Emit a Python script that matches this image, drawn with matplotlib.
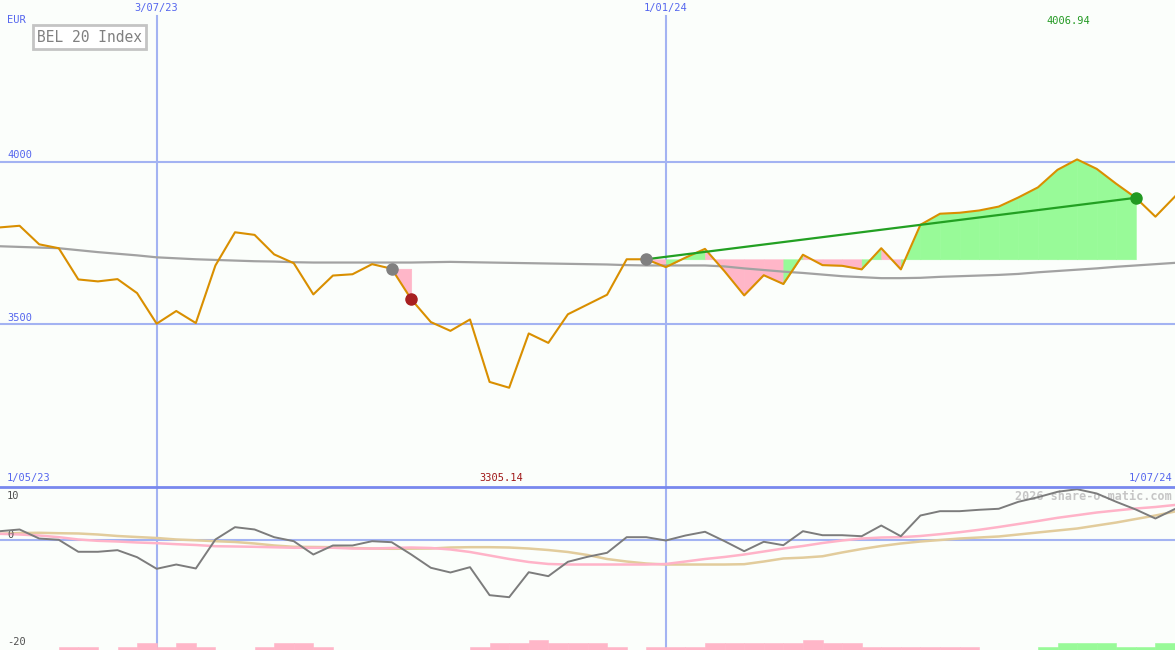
import numpy as np
import pandas as pd
import matplotlib
matplotlib.use('Agg')
import matplotlib.pyplot as plt
import matplotlib.transforms as mtrans
import matplotlib.dates as mdates

# ---------------- data ----------------
dates = pd.date_range('2023-05-08', periods=61, freq='7D')

price = [3798, 3803, 3746, 3734, 3638, 3632, 3639, 3596, 3502, 3541,
         3504, 3681, 3783, 3775, 3715, 3688, 3592, 3650, 3654, 3685,
         3671, 3577, 3507, 3480, 3515, 3323, 3305.14, 3472, 3443, 3531,
         3561, 3591, 3700, 3700, 3676, 3705, 3732, 3663, 3589, 3651,
         3624, 3714, 3682, 3680, 3669, 3734, 3669, 3806, 3840, 3843,
         3850, 3862, 3890, 3921, 3975, 4006.94, 3978, 3932, 3889, 3831,
         3893]

ma = [3740, 3738, 3736, 3734, 3728, 3722, 3717, 3712, 3706, 3703,
      3700, 3698, 3696, 3694, 3693, 3691, 3690, 3690, 3690, 3690,
      3690, 3690, 3691, 3692, 3691, 3690, 3689, 3688, 3687, 3686,
      3685, 3684, 3682, 3681, 3681, 3681, 3681, 3678, 3672, 3667,
      3662, 3658, 3653, 3648, 3645, 3642, 3642, 3643, 3646, 3648,
      3650, 3652, 3655, 3660, 3664, 3668, 3672, 3677, 3681, 3685,
      3689]

osc = [1.74, 2.06, 0.37, 0.13, -2.11, -2.11, -1.81, -3.12, -5.29, -4.49,
       -5.23, 0.19, 2.49, 2.06, 0.62, -0.13, -2.62, -0.93, -0.93, -0.13,
       -0.32, -2.62, -5.10, -5.98, -4.99, -10.22, -10.60, -5.93, -6.67, -3.98,
       -3.05, -2.30, 0.62, 0.62, 0.0, 0.93, 1.63, -0.13, -2.00, -0.24,
       -0.88, 1.74, 0.99, 0.99, 0.80, 2.80, 0.80, 4.67, 5.48, 5.48,
       5.74, 5.93, 7.23, 8.09, 9.10, 9.59, 8.79, 7.23, 5.79, 4.11,
       5.90]

osc_fast = [1.25, 1.12, 0.93, 0.62, 0.19, -0.06, -0.19, -0.37, -0.50, -0.69,
            -0.84, -1.07, -1.12, -1.18, -1.27, -1.36, -1.36, -1.36, -1.50, -1.50,
            -1.40, -1.31, -1.40, -1.68, -2.15, -2.80, -3.46, -4.02, -4.39, -4.49,
            -4.49, -4.49, -4.49, -4.49, -4.39, -3.93, -3.46, -3.08, -2.62, -2.06,
            -1.50, -1.03, -0.47, 0.0, 0.37, 0.56, 0.62, 0.84, 1.18, 1.55,
            2.00, 2.52, 3.08, 3.64, 4.24, 4.73, 5.23, 5.61, 5.98, 6.26,
            6.64]

osc_slow = [1.25, 1.40, 1.44, 1.36, 1.31, 1.12, 0.84, 0.65, 0.47, 0.19,
            0.04, -0.13, -0.28, -0.56, -0.93, -1.18, -1.21, -1.25, -1.40, -1.50,
            -1.55, -1.53, -1.50, -1.31, -1.25, -1.25, -1.31, -1.50, -1.78, -2.15,
            -2.71, -3.46, -3.93, -4.30, -4.49, -4.49, -4.49, -4.49, -4.43, -3.93,
            -3.36, -3.21, -2.95, -2.24, -1.59, -1.03, -0.56, -0.19, 0.09, 0.37,
            0.56, 0.75, 1.12, 1.50, 1.87, 2.24, 2.80, 3.36, 4.02, 4.67,
            5.42]

# strength bars, one per weekly interval (negative = pink, positive = green)
strength = [0, 0, 0, -1, -1, 0, -1, -2, -1, -2,
            -1, 0, 0, -1, -2, -2, -1, 0, 0, 0,
            0, 0, 0, 0, -1, -2, -2, -3, -2, -2,
            -2, -1, 0, -1, -1, -1, -2, -2, -2, -2,
            -2, -3, -2, -2, -1, -1, -1, -1, -1, -1,
            0, 0, 0, 1, 2, 2, 2, 1, 1, 2]

grid_dates = pd.to_datetime(['2023-07-03', '2024-01-01'])
grid_labels = ['3/07/23', '1/01/24']
price_ticks = [3500, 4000]
osc_ticks = [10, 0, -20]
start_label, end_label = '1/05/23', '1/07/24'
sell_signal = (20, 21)   # indices of entry point and confirmation
buy_signal = (33, 58)

# ---------------- style ----------------
BG = '#fbfefb'
GRID = '#a3b3f2'
DARKGRID = '#7888ee'
LABEL = '#5566ee'
PRICE = '#d98f00'
GREENFILL = '#98fa98'
PINKFILL = '#ffb6c8'
MONO = 'DejaVu Sans Mono'

fig = plt.figure(figsize=(11.75, 6.5), dpi=100, facecolor=BG)
H = 650.0
ax1 = fig.add_axes([0, 163 / H, 1, 487 / H])
ax2 = fig.add_axes([0, 0, 1, 163 / H])
for ax in (ax1, ax2):
    ax.set_facecolor(BG)
    for s in ax.spines.values():
        s.set_visible(False)
    ax.set_xticks([])
    ax.set_yticks([])
    ax.set_xlim(dates[0], dates[-1])

ax1.set_ylim(3000, 4497)
ax2.set_ylim(-20.47, 10)

x = np.array(dates)
xn = mdates.date2num(dates)
p = np.array(price, dtype=float)

# ---------------- main panel ----------------
for v in price_ticks:
    ax1.axhline(v, color=GRID, lw=1.5, zorder=1)
for d in grid_dates:
    ax1.axvline(d, ymax=(487 - 16) / 487, color=GRID, lw=1.5, zorder=1)
    ax2.axvline(d, color=GRID, lw=1.5, zorder=1)

# signal fills
i0, i1 = sell_signal
lvl = p[i0]
ax1.fill_between(xn[i0:i1 + 1], lvl, p[i0:i1 + 1], facecolor=PINKFILL,
                 edgecolor=PINKFILL, lw=0.4, zorder=2)
b0, b1 = buy_signal
lvl = p[b0]
for i in range(b0, b1):
    col = GREENFILL if p[i + 1] >= lvl else PINKFILL
    ax1.fill_between(xn[i:i + 2], lvl, p[i:i + 2], facecolor=col,
                     edgecolor=col, lw=0.4, zorder=2)

ax1.plot(xn, ma, color='#a2a2a2', lw=1.6, zorder=3)
ax1.plot(xn, p, color=PRICE, lw=1.5, zorder=4)
ax1.plot([xn[b0], xn[b1]], [p[b0], p[b1]], color='#22a022', lw=1.6, zorder=5)

ax1.plot(xn[i0], p[i0], 'o', color='#808080', ms=8, zorder=6)
ax1.plot(xn[i1], p[i1], 'o', color='#a82020', ms=8, zorder=6)
ax1.plot(xn[b0], p[b0], 'o', color='#808080', ms=8, zorder=6)
ax1.plot(xn[b1], p[b1], 'o', color='#229922', ms=8, zorder=6)

# texts
bt1 = mtrans.blended_transform_factory(ax1.transData, ax1.transAxes)
for d, lab in zip(mdates.date2num(grid_dates), grid_labels):
    ax1.text(d, 1 - 8 / 487, lab, transform=bt1, ha='center', va='center',
             color=LABEL, fontsize=7.5, family=MONO)
ax1.text(7 / 1175, 1 - 20 / 487, 'EUR', transform=ax1.transAxes, ha='left',
         va='center', color=LABEL, fontsize=7.5, family=MONO)
bt1y = mtrans.blended_transform_factory(ax1.transAxes, ax1.transData)
for v in price_ticks:
    ax1.annotate(str(v), xy=(7 / 1175, v), xycoords=bt1y, xytext=(0, 4.5),
                 textcoords='offset points', ha='left', va='center',
                 color=LABEL, fontsize=7.5, family=MONO)
imax = int(np.argmax(p))
imin = int(np.argmin(p))
ax1.annotate(f'{p[imax]:.2f}', xy=(xn[imax], 1 - 21 / 487), xycoords=bt1,
             xytext=(-6.5, 0), textcoords='offset points', ha='center',
             va='center', color='#229922', fontsize=7.5, family=MONO)
ax1.annotate(f'{p[imin]:.2f}', xy=(xn[imin], 9 / 487), xycoords=bt1,
             xytext=(-6, 0), textcoords='offset points', ha='center',
             va='center', color='#a01818', fontsize=7.5, family=MONO)
ax1.text(7 / 1175, 9 / 487, start_label, transform=ax1.transAxes, ha='left',
         va='center', color=LABEL, fontsize=7.5, family=MONO)
ax1.text(1172 / 1175, 9 / 487, end_label, transform=ax1.transAxes, ha='right',
         va='center', color=LABEL, fontsize=7.5, family=MONO)
ax1.text(37 / 1175, 1 - 37 / 487, 'BEL 20 Index', transform=ax1.transAxes,
         ha='left', va='center', color='#808080', fontsize=10.5, family=MONO,
         bbox=dict(boxstyle='square,pad=0.3', fc='white', ec='#c4c4c4', lw=2))

# ---------------- lower panel ----------------
ax2.axhline(0, color=GRID, lw=1.5, zorder=1)
ax2.axhline(10, color=DARKGRID, lw=2, zorder=5, clip_on=False)
unit = 3.33 / 5.35
for i, s in enumerate(strength):
    if s == 0:
        continue
    col = GREENFILL if s > 0 else PINKFILL
    ax2.fill_between(xn[i:i + 2], -20.47, -20.47 + abs(s) * unit,
                     facecolor=col, edgecolor=col, lw=0.4, zorder=2)
ax2.plot(xn, osc_slow, color='#e2cc9c', lw=1.8, zorder=3)
ax2.plot(xn, osc_fast, color='#ffb3c8', lw=1.8, zorder=3)
ax2.plot(xn, osc, color='#7c7c7c', lw=1.4, zorder=4)

for v, yy in zip(osc_ticks, [496, 535, 642]):
    ax2.text(7 / 1175, (650 - yy) / 163, str(v), transform=ax2.transAxes,
             ha='left', va='center', color='#505050', fontsize=7.5, family=MONO)
ax2.text(1172 / 1175, (650 - 496) / 163, '2026 share-o-matic.com',
         transform=ax2.transAxes, ha='right', va='center', color='#c6c6c6',
         fontsize=8.5, family=MONO, fontweight='bold', zorder=2)

fig.savefig('out.png', dpi=100, facecolor=BG)
